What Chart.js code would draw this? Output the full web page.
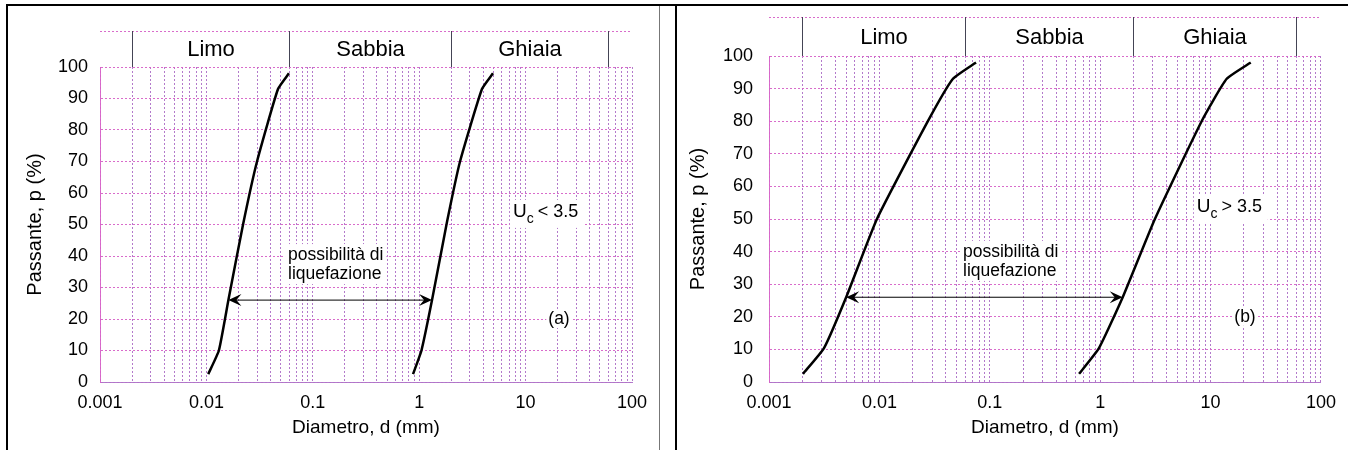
<!DOCTYPE html>
<html>
<head>
<meta charset="utf-8">
<script src="https://cdn.jsdelivr.net/npm/chart.js@4"></script>
<style>
  body { margin: 0; background: #fff; width: 1348px; height: 450px; overflow: hidden; position: relative; }
  .rule { position: absolute; }
  canvas { position: absolute; }
</style>
</head>
<body>
<div class="rule" style="left:6px;top:4px;width:1342px;height:2px;background:#000"></div>
<div class="rule" style="left:6px;top:4px;width:2px;height:446px;background:#000"></div>
<div class="rule" style="left:659px;top:6px;width:1px;height:444px;background:#777"></div>
<div class="rule" style="left:675px;top:4px;width:2px;height:446px;background:#000"></div>
<canvas id="chartA" width="650" height="443" style="left:8px;top:7px"></canvas>
<canvas id="chartB" width="668" height="443" style="left:678px;top:7px"></canvas>
<script>
// axis ticks
var xTickLabels = ['0.001', '0.01', '0.1', '1', '10', '100'];
var xDecades = [0.001, 0.01, 0.1, 1, 10];
var xMultipliers = [1, 2, 3, 4, 5, 6, 7, 8, 9];

// soil classes above the plot
var bandNames = ['Limo', 'Sabbia', 'Ghiaia'];
var bandEdges = [0.002, 0.06, 2, 60];

// (a) Uc < 3.5
var passA1 = [2.5, 10, 26, 50, 70, 93, 98];
var diamA1 = [0.0104, 0.0131, 0.0161, 0.0221, 0.0299, 0.0471, 0.0597];
var passA2 = [2.5, 10, 26, 51, 70, 93, 98];
var diamA2 = [0.875, 1.05, 1.32, 1.83, 2.42, 3.89, 4.94];

// (b) Uc > 3.5
var passB1 = [2.5, 10.4, 26, 50, 80, 93, 98];
var diamB1 = [0.00203, 0.00315, 0.005, 0.0095, 0.0275, 0.0464, 0.075];
var passB2 = [2.5, 10.4, 26, 50, 80, 93, 98];
var diamB2 = [0.643, 0.975, 1.6, 3.13, 8.3, 14.0, 23.1];

// liquefaction range arrows (at 26 %)
var arrowPass = 26;
var arrowA = [0.0161, 1.32];
var arrowB = [0.005, 1.6];

var FONT = '"Liberation Sans", Arial, sans-serif';
var GRIDX = 'rgba(175,115,200,0.95)';
var GRIDY = 'rgba(215,100,200,0.95)';

function pts(d, p) {
    return d.map(function (v, i) { return {x: v, y: p[i]}; });
}

function overlay(o) {
    return {
        id: 'overlay',
        beforeDatasetsDraw: function (chart) {
            var ctx = chart.ctx, x = chart.scales.x, y = chart.scales.y;
            ctx.save();
            ctx.fillStyle = '#000';
            ctx.textBaseline = 'middle';

            // possibilità di liquefazione
            ctx.font = '17.5px ' + FONT;
            var nx = x.getPixelForValue(o.noteX), ny = y.getPixelForValue(o.noteY);
            var w = Math.max(ctx.measureText('possibilità di').width, ctx.measureText('liquefazione').width);
            ctx.fillStyle = '#fff';
            ctx.fillRect(nx - 3, ny - 11, w + 6, 40);
            ctx.fillStyle = '#000';
            ctx.fillText('possibilità di', nx, ny);
            ctx.fillText('liquefazione', nx, ny + 19);

            // Uc label
            var ux = x.getPixelForValue(o.ucX), uy = y.getPixelForValue(o.ucY);
            ctx.fillStyle = '#fff';
            ctx.fillRect(ux - 3, uy - 12, 74, 28);
            ctx.fillStyle = '#000';
            ctx.font = '19px ' + FONT;
            ctx.fillText('U', ux, uy);
            var uw = ctx.measureText('U').width;
            ctx.font = '14px ' + FONT;
            ctx.fillText('c', ux + uw, uy + 7);
            var cw = ctx.measureText('c').width;
            ctx.font = '18px ' + FONT;
            ctx.fillText(o.ucText, ux + uw + cw + 4, uy);

            // (a) / (b)
            ctx.font = '17.5px ' + FONT;
            ctx.textAlign = 'center';
            var lx = x.getPixelForValue(o.tagX), ly = y.getPixelForValue(o.tagY);
            var tw = ctx.measureText(o.tag).width;
            ctx.fillStyle = '#fff';
            ctx.fillRect(lx - tw / 2 - 2, ly - 9, tw + 4, 18);
            ctx.fillStyle = '#000';
            ctx.fillText(o.tag, lx, ly);

            // double arrow
            var x1 = x.getPixelForValue(o.arrow[0]), x2 = x.getPixelForValue(o.arrow[1]);
            var ay = y.getPixelForValue(arrowPass);
            ctx.strokeStyle = '#000';
            ctx.lineWidth = 1;
            ctx.beginPath();
            ctx.moveTo(x1 + 4, ay);
            ctx.lineTo(x2 - 4, ay);
            ctx.stroke();
            [[x1, 1], [x2, -1]].forEach(function (h) {
                ctx.beginPath();
                ctx.moveTo(h[0], ay);
                ctx.lineTo(h[0] + h[1] * 13, ay - 6);
                ctx.lineTo(h[0] + h[1] * 8, ay);
                ctx.lineTo(h[0] + h[1] * 13, ay + 6);
                ctx.closePath();
                ctx.fill();
            });
            ctx.restore();
        },
        afterDraw: function (chart) {
            var ctx = chart.ctx, a = chart.chartArea, x = chart.scales.x;
            var top = a.top - o.bandH;
            ctx.save();
            ctx.strokeStyle = GRIDY;
            ctx.lineWidth = 1;
            ctx.setLineDash([2, 2]);
            ctx.beginPath();
            ctx.moveTo(a.left, top + 0.5);
            ctx.lineTo(a.right, top + 0.5);
            ctx.stroke();
            ctx.setLineDash([]);
            ctx.strokeStyle = '#445';
            var px = bandEdges.map(function (v) { return Math.round(x.getPixelForValue(v)) + 0.5; });
            px.forEach(function (p) {
                ctx.beginPath();
                ctx.moveTo(p, top);
                ctx.lineTo(p, a.top);
                ctx.stroke();
            });
            ctx.fillStyle = '#000';
            ctx.font = '22px ' + FONT;
            ctx.textAlign = 'center';
            ctx.textBaseline = 'middle';
            bandNames.forEach(function (n, i) {
                ctx.fillText(n, (px[i] + px[i + 1]) / 2, top + o.bandH / 2 + 1);
            });
            ctx.restore();
        }
    };
}

function makeChart(id, o) {
    return new Chart(document.getElementById(id), {
        type: 'scatter',
        data: {
            datasets: [
                {data: pts(o.d1, o.p1), showLine: true, borderColor: '#000', borderWidth: 2.5,
                    pointRadius: 0, tension: 0.15},
                {data: pts(o.d2, o.p2), showLine: true, borderColor: '#000', borderWidth: 2.5,
                    pointRadius: 0, tension: 0.15}
            ]
        },
        options: {
            responsive: false,
            animation: false,
            layout: {padding: {left: 0, top: o.padTop, right: o.padRight, bottom: 0}},
            plugins: {legend: {display: false}, tooltip: {enabled: false}},
            scales: {
                x: {
                    type: 'logarithmic',
                    min: 0.001,
                    max: 100,
                    afterBuildTicks: function (s) {
                        var list = [];
                        xDecades.forEach(function (d, i) {
                            xMultipliers.forEach(function (m, j) {
                                list.push({value: +(m * d).toPrecision(6), label: j === 0 ? xTickLabels[i] : ''});
                            });
                        });
                        list.push({value: 100, label: xTickLabels[xTickLabels.length - 1]});
                        s.ticks = list;
                    },
                    afterFit: function (s) { s.height = 68; },
                    ticks: {
                        autoSkip: false,
                        maxRotation: 0,
                        padding: 10,
                        color: '#000',
                        font: {family: FONT, size: 18},
                        callback: function (v, i, t) { return t[i].label; }
                    },
                    grid: {color: GRIDX, drawTicks: false},
                    border: {color: GRIDX, dash: [2, 2]},
                    title: {display: true, text: 'Diametro, d (mm)', color: '#000',
                        font: {family: FONT, size: 19}, padding: {top: 0, bottom: 11}}
                },
                y: {
                    min: 0,
                    max: 100,
                    afterFit: function (s) { s.width = o.yWidth; },
                    ticks: {stepSize: 10, padding: o.yPad, color: '#000', font: {family: FONT, size: 18}},
                    grid: {color: GRIDY, drawTicks: false},
                    border: {color: GRIDY, dash: [2, 2]},
                    title: {display: true, text: 'Passante, p (%)', color: '#000',
                        font: {family: FONT, size: 20}, padding: {top: o.yTitlePad, bottom: 0}}
                }
            }
        },
        plugins: [overlay(o)]
    });
}

makeChart('chartA', {
    d1: diamA1, p1: passA1, d2: diamA2, p2: passA2,
    padTop: 60, padRight: 26, yWidth: 92, yPad: 12, yTitlePad: 15, bandH: 36,
    arrow: arrowA, noteX: 0.0585, noteY: 40.3, ucX: 7.6, ucY: 54, ucText: '< 3.5',
    tag: '(a)', tagX: 20.6, tagY: 20
});

makeChart('chartB', {
    d1: diamB1, p1: passB1, d2: diamB2, p2: passB2,
    padTop: 49, padRight: 25, yWidth: 91, yPad: 16, yTitlePad: 8, bandH: 39,
    arrow: arrowB, noteX: 0.0572, noteY: 39.9, ucX: 7.5, ucY: 53.7, ucText: '> 3.5',
    tag: '(b)', tagX: 20.5, tagY: 20
});
</script>
</body>
</html>
